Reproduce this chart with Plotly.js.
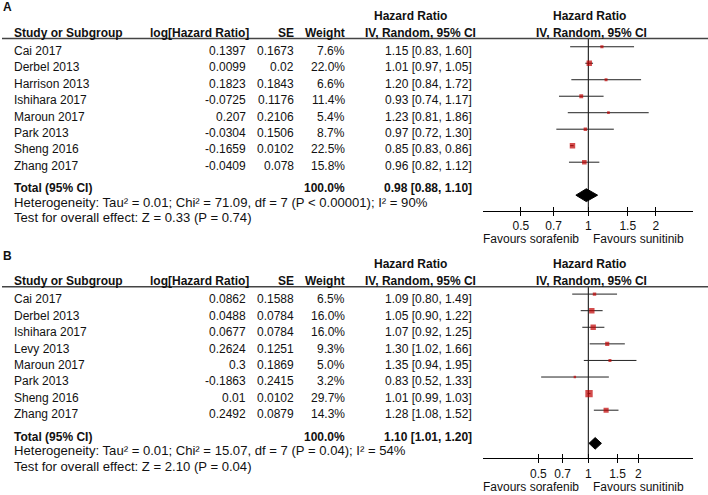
<!DOCTYPE html>
<html><head><meta charset="utf-8">
<script src="https://cdn.plot.ly/plotly-3.0.1.min.js"></script>
<style>html,body{margin:0;padding:0;background:#fff}#chart{width:708px;height:495px}</style>
</head><body><div id="chart"></div>
<script>
// ---------- Panel A data ----------
const studiesA = ["Cai 2017","Derbel 2013","Harrison 2013","Ishihara 2017","Maroun 2017","Park 2013","Sheng 2016","Zhang 2017"];
const logHRA = [0.1397, 0.0099, 0.1823, -0.0725, 0.207, -0.0304, -0.1659, -0.0409];
const seA = [0.1673, 0.02, 0.1843, 0.1176, 0.2106, 0.1506, 0.0102, 0.078];
const weightA = [7.6, 22.0, 6.6, 11.4, 5.4, 8.7, 22.5, 15.8];
const hrA = [1.15, 1.01, 1.20, 0.93, 1.23, 0.97, 0.85, 0.96];
const loA = [0.83, 0.97, 0.84, 0.74, 0.81, 0.72, 0.83, 0.82];
const hiA = [1.60, 1.05, 1.72, 1.17, 1.86, 1.30, 0.86, 1.12];
const totalA = [0.98, 0.88, 1.10];
const hetA = "Heterogeneity: Tau² = 0.01; Chi² = 71.09, df = 7 (P &lt; 0.00001); I² = 90%";
const testA = "Test for overall effect: Z = 0.33 (P = 0.74)";

// ---------- Panel B data ----------
const studiesB = ["Cai 2017","Derbel 2013","Ishihara 2017","Levy 2013","Maroun 2017","Park 2013","Sheng 2016","Zhang 2017"];
const logHRB = [0.0862, 0.0488, 0.0677, 0.2624, 0.3, -0.1863, 0.01, 0.2492];
const seB = [0.1588, 0.0784, 0.0784, 0.1251, 0.1869, 0.2415, 0.0102, 0.0879];
const weightB = [6.5, 16.0, 16.0, 9.3, 5.0, 3.2, 29.7, 14.3];
const hrB = [1.09, 1.05, 1.07, 1.30, 1.35, 0.83, 1.01, 1.28];
const loB = [0.80, 0.90, 0.92, 1.02, 0.94, 0.52, 0.99, 1.08];
const hiB = [1.49, 1.22, 1.25, 1.66, 1.95, 1.33, 1.03, 1.52];
const totalB = [1.10, 1.01, 1.20];
const hetB = "Heterogeneity: Tau² = 0.01; Chi² = 15.07, df = 7 (P = 0.04); I² = 54%";
const testB = "Test for overall effect: Z = 2.10 (P = 0.04)";

const tickVals = [0.5, 0.7, 1, 1.5, 2];
const tickText = ["0.5", "0.7", "1", "1.5", "2"];

// ---------- layout helpers ----------
const W = 708, H = 495;
const FONT = "Liberation Sans, Arial, sans-serif";
const TXT = "#111";
const py = v => 1 - v / H;
const pxf = v => v / W;
const annotations = [];
const shapes = [];
function txt(text, x, y, anchor, bold, size) {
  annotations.push({
    text: bold ? "<b>" + text + "</b>" : text,
    x: pxf(x), y: py(y), xref: "paper", yref: "paper",
    xanchor: anchor, yanchor: "middle", showarrow: false,
    font: { family: FONT, size: size || 12, color: TXT }
  });
}
const f2 = v => v.toFixed(2);
const traces = [];
const layout = {
  width: W, height: H, margin: { l: 0, r: 0, t: 0, b: 0 },
  paper_bgcolor: "#fff", plot_bgcolor: "rgba(0,0,0,0)",
  showlegend: false, font: { family: FONT, size: 12, color: TXT }
};

function panel(p) {
  const o = p.off;
  const n = p.idx === 1 ? "" : String(p.idx);
  const xa = "x" + n, ya = "y" + n;
  const xk = "xaxis" + n, yk = "yaxis" + n;
  const ovN = String(p.idx + 2);
  // text table
  txt(p.label, 1, 7.5 + o, "left", true);
  txt("Hazard Ratio", 410, 16 + o, "center", true);
  txt("Hazard Ratio", 589, 16 + o, "center", true);
  txt("Study or Subgroup", 12, 33 + o, "left", true);
  txt("log[Hazard Ratio]", 251, 33 + o, "right", true);
  txt("SE", 296, 33 + o, "right", true);
  txt("Weight", 347, 33 + o, "right", true);
  txt("IV, Random, 95% CI", 420, 33 + o, "center", true);
  txt("IV, Random, 95% CI", 591, 33 + o, "center", true);
  shapes.push({ type: "line", xref: "paper", yref: "paper", x0: pxf(2), x1: 1, y0: py(38.5 + o), y1: py(38.5 + o), line: { color: "#444", width: 1.5 } });
  p.studies.forEach((s, i) => {
    const y = 51 + o + 16.4 * i;
    txt(s, 12, y, "left", false);
    txt(String(p.logHR[i]), 248, y, "right", false);
    txt(String(p.se[i]), 296, y, "right", false);
    txt(p.w[i].toFixed(1) + "%", 347, y, "right", false);
    txt(f2(p.hr[i]) + " [" + f2(p.lo[i]) + ", " + f2(p.hi[i]) + "]", 474, y, "right", false);
  });
  const ty = 188.3 + o;
  txt("Total (95% CI)", 12, ty, "left", true);
  txt("100.0%", 347, ty, "right", true);
  txt(f2(p.tot[0]) + " [" + f2(p.tot[1]) + ", " + f2(p.tot[2]) + "]", 474, ty, "right", true);
  txt(p.het, 12, 202.5 + o, "left", false, 13.1);
  txt(p.test, 12, 217.8 + o, "left", false, 13.1);
  txt("Favours sorafenib", 581, 238.5 + o, "right", false);
  txt("Favours sunitinib", 591, 238.5 + o, "left", false);

  // plot marks
  const rows = p.studies.map((_, i) => i);
  traces.push({ x: [1, 1], y: [p.yr[1], p.yr[0]], xaxis: xa, yaxis: ya, mode: "lines", line: { color: "#000", width: 1 }, hoverinfo: "skip" });
  traces.push({
    x: p.hr, y: rows, xaxis: xa, yaxis: ya, mode: "markers",
    marker: { symbol: "square", color: "#c00000", size: p.w.map(v => p.k * Math.sqrt(v)), line: { width: 0 } },
    error_x: { type: "data", symmetric: false, array: p.hi.map((v, i) => v - p.hr[i]), arrayminus: p.lo.map((v, i) => p.hr[i] - v), color: "#222", thickness: 1, width: 0 }
  });
  const dr = 9, h = p.dh;
  traces.push({
    x: [p.tot[1], p.tot[0], p.tot[2], p.tot[0], p.tot[1]],
    y: [dr, dr - h, dr, dr + h, dr], xaxis: xa, yaxis: ya,
    mode: "lines", fill: "toself", fillcolor: "#000", line: { color: "#000", width: 1 }
  });
  // invisible carrier for the overlay tick axis (ticks crossing the axis line)
  traces.push({ x: [1], y: [0], xaxis: "x" + ovN, yaxis: ya, mode: "markers", marker: { opacity: 0, size: 1 }, hoverinfo: "skip" });
  const common = {
    type: "log", range: [-p.xr, p.xr], anchor: ya,
    tickvals: tickVals, ticktext: tickText, tickcolor: "#000", tickwidth: 1,
    showgrid: false, zeroline: false, fixedrange: true,
    tickfont: { family: FONT, size: 12, color: TXT }
  };
  layout[xk] = Object.assign({}, common, {
    domain: [pxf(483.3), pxf(693.3)], ticks: "outside", ticklen: 4,
    showline: true, linecolor: "#000", linewidth: 1
  });
  layout["xaxis" + ovN] = Object.assign({}, common, {
    overlaying: xa, ticks: "inside", ticklen: 4, showticklabels: false, showline: false
  });
  layout[yk] = {
    domain: [py(p.axisY), py(38.5 + o)], range: p.yr, showgrid: false, zeroline: false,
    showticklabels: false, ticks: "", showline: false, fixedrange: true, anchor: xa
  };
}

panel({ idx: 1, label: "A", off: 0, studies: studiesA, logHR: logHRA, se: seA, w: weightA, hr: hrA, lo: loA, hi: hiA, tot: totalA, het: hetA, test: testA, k: 1.15, dh: 0.39, xr: 0.4685, axisY: 211, yr: [9.96, -0.5] });
panel({ idx: 2, label: "B", off: 248.3, studies: studiesB, logHR: logHRB, se: seB, w: weightB, hr: hrB, lo: loB, hi: hiB, tot: totalB, het: hetB, test: testB, k: 1.35, dh: 0.35, xr: 0.6325, axisY: 458.3, yr: [9.90, -0.44] });

layout.annotations = annotations;
layout.shapes = shapes;
Plotly.newPlot("chart", traces, layout, { staticPlot: true, displayModeBar: false });
</script>
</body></html>
